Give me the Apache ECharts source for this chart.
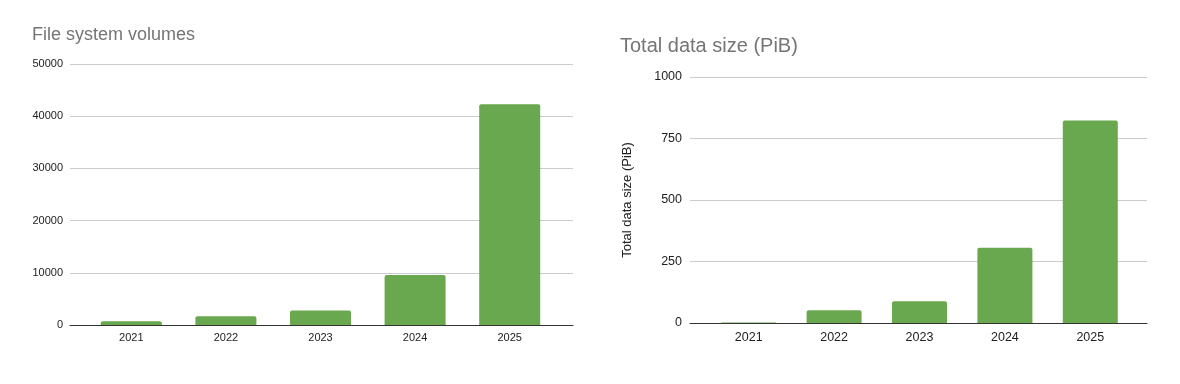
<!DOCTYPE html>
<html>
<head>
<meta charset="utf-8">
<script src="https://cdn.jsdelivr.net/npm/echarts@6/dist/echarts.min.js"></script>
<style>
html,body{margin:0;padding:0;background:#fff;}
#c{width:1180px;height:384px;}
</style>
</head>
<body>
<div id="c"></div>
<script>
const years = ['2021', '2022', '2023', '2024', '2025'];
const volumes = [700, 1700, 2800, 9600, 42300];
const dataSizePiB = [2, 52, 88, 306, 823];
const leftTitle = 'File system volumes';
const rightTitle = 'Total data size (PiB)';
const rightAxisName = 'Total data size (PiB)';

const FONT = '"Liberation Sans", Arial, sans-serif';
const GREEN = '#6aa84f';
const plain = v => String(v);
const chart = echarts.init(document.getElementById('c'), null, {renderer: 'canvas'});

chart.setOption({
  animation: false,
  backgroundColor: '#ffffff',
  textStyle: {fontFamily: FONT},
  title: [
    {text: leftTitle, left: 32, top: 26, padding: 0, textStyle: {fontFamily: FONT, fontSize: 18, fontWeight: 'normal', color: '#757575'}},
    {text: rightTitle, left: 620, top: 36, padding: 0, textStyle: {fontFamily: FONT, fontSize: 20, fontWeight: 'normal', color: '#757575'}}
  ],
  grid: [
    {left: 70, right: 607, top: 64, bottom: 59},
    {left: 84, right: 623, top: 64, bottom: 59},
    {left: 690, right: 33, top: 77, bottom: 61},
    {left: 706, right: 47, top: 77, bottom: 61}
  ],
  xAxis: [
    {gridIndex: 0, type: 'category', data: years, z: 5,
     axisLine: {show: true, lineStyle: {color: '#333333', width: 1}},
     axisTick: {show: false}, axisLabel: {show: false}, splitLine: {show: false}},
    {gridIndex: 1, type: 'category', data: years,
     axisLine: {show: false}, axisTick: {show: false},
     axisLabel: {fontFamily: FONT, fontSize: 11, color: '#222222', margin: 7}},
    {gridIndex: 2, type: 'category', data: years, z: 5,
     axisLine: {show: true, lineStyle: {color: '#333333', width: 1}},
     axisTick: {show: false}, axisLabel: {show: false}, splitLine: {show: false}},
    {gridIndex: 3, type: 'category', data: years,
     axisLine: {show: false}, axisTick: {show: false},
     axisLabel: {fontFamily: FONT, fontSize: 12.5, color: '#222222', margin: 8}}
  ],
  yAxis: [
    {gridIndex: 0, type: 'value', min: 0, max: 50000, interval: 10000,
     axisLine: {show: false}, axisTick: {show: false},
     axisLabel: {fontFamily: FONT, fontSize: 11, color: '#222222', margin: 7, formatter: plain},
     splitLine: {lineStyle: {color: '#cccccc', width: 1}}},
    {gridIndex: 1, type: 'value', min: 0, max: 50000, interval: 10000, show: false},
    {gridIndex: 2, type: 'value', min: 0, max: 1000, interval: 250,
     name: rightAxisName, nameLocation: 'middle', nameGap: 56,
     nameTextStyle: {fontFamily: FONT, fontSize: 13, color: '#222222'},
     axisLine: {show: false}, axisTick: {show: false},
     axisLabel: {fontFamily: FONT, fontSize: 12.5, color: '#222222', margin: 8, formatter: plain},
     splitLine: {lineStyle: {color: '#cccccc', width: 1}}},
    {gridIndex: 3, type: 'value', min: 0, max: 1000, interval: 250, show: false}
  ],
  series: [
    {type: 'bar', xAxisIndex: 1, yAxisIndex: 1, data: volumes, barWidth: 61,
     itemStyle: {color: GREEN, borderRadius: [2, 2, 0, 0]}},
    {type: 'bar', xAxisIndex: 3, yAxisIndex: 3, data: dataSizePiB, barWidth: 55,
     itemStyle: {color: GREEN, borderRadius: [2, 2, 0, 0]}}
  ]
});
</script>
</body>
</html>
